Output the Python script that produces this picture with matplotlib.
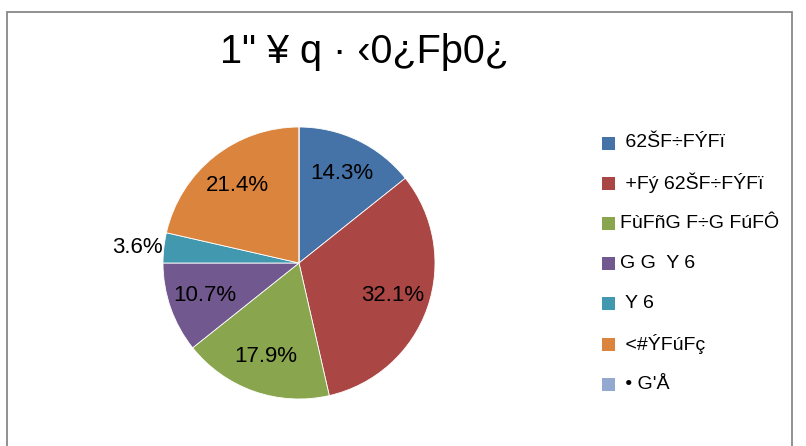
import numpy as np
import matplotlib.pyplot as plt
from matplotlib.patches import Rectangle

plt.rcParams['font.family'] = ['Liberation Sans', 'DejaVu Sans']

title = '1" \u00a5 q \u00b7 \u20390\u00bfF\u00fe0\u00bf'
labels = [' 62\u0160F\u00f7F\u00ddF\u00ef', ' +F\u00fd 62\u0160F\u00f7F\u00ddF\u00ef',
          'F\u00f9F\u00f1G F\u00f7G F\u00faF\u00d4', 'G G  Y 6', ' Y 6',
          ' <#\u00ddF\u00faF\u00e7', ' \u2022 G\'\u00c5']
counts = [4, 9, 5, 3, 1, 6, 0]
colors = ['#4572A7', '#AA4643', '#89A54E', '#71588F', '#4198AF', '#DB843D', '#93A9CF']

W, H = 806, 446
fig = plt.figure(figsize=(W / 100, H / 100), dpi=100)

# outer chart frame (bottom edge is off the picture)
fig.add_artist(Rectangle((7 / W, -0.1), 785 / W, (H - 12) / H + 0.1,
                         transform=fig.transFigure, fill=False,
                         edgecolor='#888888', lw=1.3))

fig.text(365 / W, 1 - 52 / H, title, fontsize=28.5, ha='center', va='center')

# pie: centre (299, 263) px, radius 136 px
cx, cy, r = 299, 263, 136
ax = fig.add_axes([(cx - r) / W, (H - cy - r) / H, 2 * r / W, 2 * r / H])
total = sum(counts)


def pct(p):
    return '%.1f%%' % p if p > 5 else ''


wedges, texts, autotexts = ax.pie(counts, colors=colors, startangle=90, counterclock=False,
                                  radius=1, autopct=pct, pctdistance=0.73,
                                  wedgeprops=dict(edgecolor='white', linewidth=0.6),
                                  textprops=dict(fontsize=16))
# small slices get their label outside the pie
for w, c in zip(wedges, counts):
    p = 100 * c / total
    if 0 < p <= 5:
        a = np.deg2rad((w.theta1 + w.theta2) / 2)
        ax.text(1.01 * np.cos(a), np.sin(a), '%.1f%%' % p, fontsize=16,
                ha='right', va='center')
ax.set_xlim(-1, 1)
ax.set_ylim(-1, 1)
ax.set_aspect('equal')
ax.axis('off')

# legend
for i, (lab, col) in enumerate(zip(labels, colors)):
    y = 143 + i * 40.2
    fig.add_artist(Rectangle((602 / W, 1 - (y + 6.5) / H), 13 / W, 13 / H,
                             transform=fig.transFigure, color=col, lw=0))
    fig.text(620 / W, 1 - y / H, lab, fontsize=14, ha='left', va='center')

fig.savefig('out.png', dpi=100)
